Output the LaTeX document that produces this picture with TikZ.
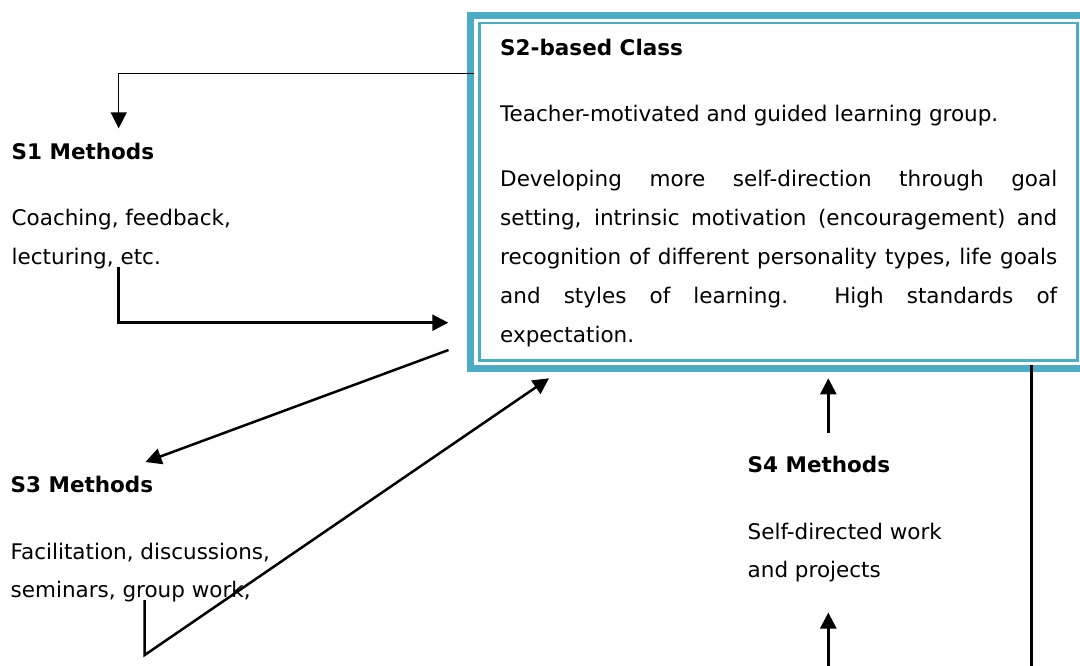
\documentclass[tikz,border=0pt]{standalone}
\usepackage{fontspec}
\setmainfont{DejaVu Sans}
\usetikzlibrary{arrows.meta}
\definecolor{frameteal}{HTML}{4BACC6}
\begin{document}
\begin{tikzpicture}[x=1pt,y=-1pt,
  txt/.style={anchor=base west, inner sep=0pt, font=\fontsize{21.5}{38.8}\selectfont},
  ttl/.style={txt, font=\fontsize{21.5}{38.8}\selectfont\bfseries},
  tip/.style={-{Triangle[length=16pt,width=16pt]}},
  conn/.style={line width=2.5pt, tip},
  thinconn/.style={line width=1.5pt, tip},
  plain/.style={line width=2.5pt},
]
\useasboundingbox (0,0) rectangle (1080,666);
\clip (0,0) rectangle (1080,666);

% S2 class box: thick outer frame and thin inner frame
\coordinate (outerNW) at (470.3,15.3);
\coordinate (outerSE) at (1092,368.3);
\coordinate (innerNW) at (479.4,23);
\coordinate (innerSE) at (1077.6,360.7);
\draw[frameteal, line width=7.3pt] (outerNW) rectangle (outerSE);
\draw[frameteal, line width=2.6pt] (innerNW) rectangle (innerSE);

\node[ttl] (s2title) at (500,56) {S2-based Class};
\node[txt] (s2line) at (500,122) {Teacher-motivated and guided learning group.};
\node[txt, text width=557pt, align=justify] (s2para) at (500,187)
  {Developing more self-direction through goal\linebreak
   setting, intrinsic motivation (encouragement) and\linebreak
   recognition of different personality types, life goals\linebreak
   and styles of learning.\ \ High standards of\linebreak
   expectation.};

% method labels
\node[ttl] (s1title) at (11.5,159.5) {S1 Methods};
\node[txt] (s1a) at (11.5,225.5) {Coaching, feedback,};
\node[txt] (s1b) at (11.5,264) {lecturing, etc.};

\node[ttl] (s3title) at (10.5,492.5) {S3 Methods};
\node[txt] (s3a) at (10.5,559) {Facilitation, discussions,};
\node[txt] (s3b) at (10.5,597) {seminars, group work,};

\node[ttl] (s4title) at (747.5,472.5) {S4 Methods};
\node[txt] (s4a) at (747.5,539) {Self-directed work};
\node[txt] (s4b) at (747.5,577) {and projects};

% connector end points
\coordinate (boxL1) at (474,73.3);
\coordinate (s1top) at (118.7,128.3);
\coordinate (s1out) at (118.7,266.7);
\coordinate (boxIn1) at (448.3,322.7);
\coordinate (boxOut3) at (448.5,350);
\coordinate (s3top) at (145.5,462);
\coordinate (s3out) at (144.7,600);
\coordinate (s3turn) at (144.7,655);
\coordinate (boxIn3) at (549,378.3);
\coordinate (s4out) at (828.3,433.3);
\coordinate (boxIn4) at (828.3,378.3);
\coordinate (s4from) at (828.3,668);
\coordinate (s4in) at (828.3,612.5);
\coordinate (boxOut5) at (1031.7,365);
\coordinate (boxDown) at (1031.7,668);

% connectors
\draw[thinconn] (boxL1) -| (s1top);
\draw[conn] (s1out) |- (boxIn1);
\draw[conn] (boxOut3) -- (s3top);
\draw[conn] (s3out) -- (s3turn) -- (boxIn3);
\draw[conn] (s4out) -- (boxIn4);
\draw[conn] (s4from) -- (s4in);
\draw[plain] (boxOut5) -- (boxDown);
\end{tikzpicture}
\end{document}
